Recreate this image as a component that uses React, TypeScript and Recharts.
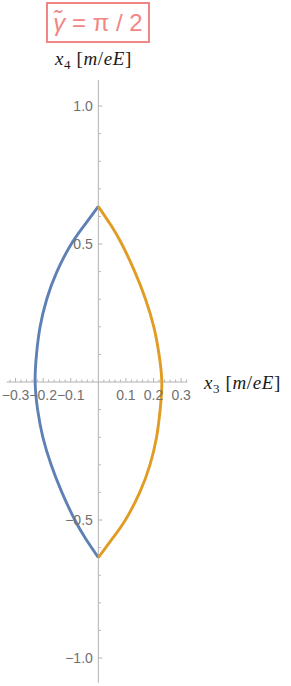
import React from 'react';
import { LineChart, Line, XAxis, YAxis, ReferenceLine } from 'recharts';

// ---- data ----
const curveY = [0.636, 0.566, 0.5, 0.4, 0.3, 0.2, 0.1, 0, -0.1, -0.2, -0.3, -0.4, -0.5, -0.566, -0.636];
const blueX = [0, -0.052, -0.098, -0.15, -0.187, -0.211, -0.224, -0.229, -0.22, -0.201, -0.171, -0.132, -0.085, -0.047, 0];
const orangeX = [0, 0.047, 0.085, 0.132, 0.171, 0.201, 0.22, 0.23, 0.224, 0.211, 0.187, 0.15, 0.098, 0.052, 0];

const xTicks = [-0.32, -0.3, -0.28, -0.26, -0.24, -0.22, -0.2, -0.18, -0.16, -0.14, -0.12, -0.1, -0.08, -0.06, -0.04, -0.02,
  0.02, 0.04, 0.06, 0.08, 0.1, 0.12, 0.14, 0.16, 0.18, 0.2, 0.22, 0.24, 0.26, 0.28, 0.3, 0.32];
const xMajorTicks = [-0.3, -0.2, -0.1, 0.1, 0.2, 0.3];
const yTicks = [-1.0, -0.9, -0.8, -0.7, -0.6, -0.5, -0.4, -0.3, -0.2, -0.1, 0.1, 0.2, 0.3, 0.4, 0.5, 0.6, 0.7, 0.8, 0.9, 1.0];
const yMajorTicks = [-1.0, -0.5, 0.5, 1.0];
const xDomain: [number, number] = [-0.332, 0.322];
const yDomain: [number, number] = [-1.09, 1.095];

const blueData = curveY.map((y, i) => ({ x: blueX[i], y }));
const orangeData = curveY.map((y, i) => ({ x: orangeX[i], y }));

// ---- layout ----
const W = 291;
const H = 686;
const PX_PER_UNIT = 276;
const PLOT_LEFT = 6.7;
const PLOT_WIDTH = (xDomain[1] - xDomain[0]) * PX_PER_UNIT;
const PLOT_TOP = 79.8;
const PLOT_HEIGHT = (yDomain[1] - yDomain[0]) * PX_PER_UNIT;
const AXIS_W = 1;
const AXIS_H = 1;
const ORIGIN_X = PLOT_LEFT + ((0 - xDomain[0]) / (xDomain[1] - xDomain[0])) * PLOT_WIDTH;
const ORIGIN_Y = PLOT_TOP + ((yDomain[1] - 0) / (yDomain[1] - yDomain[0])) * PLOT_HEIGHT;

const AXIS_COLOR = '#b3b3b3';
const LABEL_COLOR = '#707070';
const FONT = 'Liberation Sans, Arial, sans-serif';

const isMajor = (v: number, list: number[]) => list.some((m) => Math.abs(m - v) < 1e-9);
const fmt = (v: number) => (v < 0 ? '\u2212' + Math.abs(v).toFixed(1) : v.toFixed(1));

const XTick = (props: any) => {
  const { x, payload } = props;
  const v = payload.value as number;
  const major = isMajor(v, xMajorTicks);
  return (
    <g>
      <line x1={x} x2={x} y1={ORIGIN_Y} y2={ORIGIN_Y - (major ? 4 : 2.5)} stroke={AXIS_COLOR} strokeWidth={1} />
      {major && (
        <text x={x} y={ORIGIN_Y + 18} textAnchor="middle" fontFamily={FONT} fontSize={14} fill={LABEL_COLOR}>
          {fmt(v)}
        </text>
      )}
    </g>
  );
};

const YTick = (props: any) => {
  const { y, payload } = props;
  const v = payload.value as number;
  const major = isMajor(v, yMajorTicks);
  return (
    <g>
      <line x1={ORIGIN_X} x2={ORIGIN_X + (major ? 4 : 2.5)} y1={y} y2={y} stroke={AXIS_COLOR} strokeWidth={1} />
      {major && (
        <text x={ORIGIN_X - 5.5} y={y + 5} textAnchor="end" fontFamily={FONT} fontSize={14} fill={LABEL_COLOR}>
          {fmt(v)}
        </text>
      )}
    </g>
  );
};

const mathStyle: React.CSSProperties = {
  position: 'absolute',
  fontFamily: 'Liberation Serif, serif',
  fontSize: 19,
  color: '#1a1a1a',
  whiteSpace: 'nowrap',
  lineHeight: '19px',
  letterSpacing: 0.6,
};

const subStyle: React.CSSProperties = { fontSize: 13, verticalAlign: -4, letterSpacing: 0 };

export default function App() {
  return (
    <div style={{ position: 'absolute', left: 0, top: 0, width: W, height: H, background: '#fff' }}>
      <LineChart
        width={W}
        height={H}
        margin={{
          top: PLOT_TOP,
          left: PLOT_LEFT - AXIS_W,
          right: W - PLOT_LEFT - PLOT_WIDTH,
          bottom: H - PLOT_TOP - PLOT_HEIGHT - AXIS_H,
        }}
      >
        <XAxis
          type="number"
          dataKey="x"
          domain={xDomain}
          ticks={xTicks}
          interval={0}
          allowDataOverflow
          height={AXIS_H}
          axisLine={false}
          tickLine={false}
          tick={<XTick />}
        />
        <YAxis
          type="number"
          dataKey="y"
          domain={yDomain}
          ticks={yTicks}
          interval={0}
          allowDataOverflow
          width={AXIS_W}
          axisLine={false}
          tickLine={false}
          tick={<YTick />}
        />
        <ReferenceLine x={0} stroke={AXIS_COLOR} strokeWidth={1} />
        <ReferenceLine y={0} stroke={AXIS_COLOR} strokeWidth={1} />
        <Line
          data={blueData}
          dataKey="y"
          type="natural"
          stroke="#5e81b5"
          strokeWidth={2.9}
          dot={false}
          activeDot={false}
          isAnimationActive={false}
        />
        <Line
          data={orangeData}
          dataKey="y"
          type="natural"
          stroke="#e19c24"
          strokeWidth={2.9}
          dot={false}
          activeDot={false}
          isAnimationActive={false}
        />
      </LineChart>

      <div
        style={{
          position: 'absolute',
          left: 46,
          top: 2,
          width: 104,
          height: 41,
          boxSizing: 'border-box',
          border: '2px solid #f28585',
          color: '#f28585',
          fontFamily: FONT,
          fontSize: 24,
          lineHeight: '37px',
          textAlign: 'center',
          whiteSpace: 'nowrap',
        }}
      >
        <i>{'\u03B3\u0303'}</i> = {'\u03C0'} / 2
      </div>

      <div style={{ ...mathStyle, left: 55, top: 49 }}>
        <i>x</i>
        <sub style={subStyle}>4</sub>
        <span style={{ marginLeft: 6 }}>[</span>
        <i>m</i>/<i>eE</i>]
      </div>

      <div style={{ ...mathStyle, left: 204, top: 373 }}>
        <i>x</i>
        <sub style={subStyle}>3</sub>
        <span style={{ marginLeft: 6 }}>[</span>
        <i>m</i>/<i>eE</i>]
      </div>
    </div>
  );
}
